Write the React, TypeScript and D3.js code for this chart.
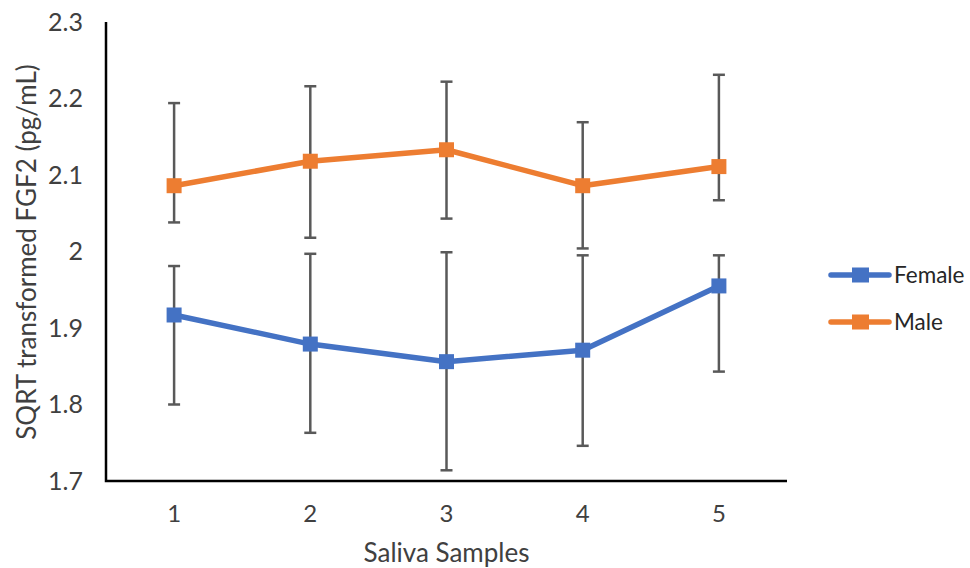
import React, { useEffect, useRef } from "react";
import * as d3 from "d3";

const categories = ["1", "2", "3", "4", "5"];
const femaleMean = [1.917, 1.879, 1.856, 1.871, 1.955];
const femaleLow = [1.8, 1.763, 1.714, 1.746, 1.843];
const femaleHigh = [1.981, 1.997, 1.999, 1.995, 1.995];
const maleMean = [2.086, 2.118, 2.133, 2.086, 2.111];
const maleLow = [2.038, 2.018, 2.043, 2.004, 2.067];
const maleHigh = [2.194, 2.216, 2.222, 2.169, 2.231];
const yTicks = [1.7, 1.8, 1.9, 2.0, 2.1, 2.2, 2.3];

const series = [
  { name: "Female", color: "#4472C4", mean: femaleMean, low: femaleLow, high: femaleHigh },
  { name: "Male", color: "#ED7D31", mean: maleMean, low: maleLow, high: maleHigh },
];

const W = 970;
const H = 568;
const font = "Lato, 'Open Sans', sans-serif";

export default function App() {
  const ref = useRef<SVGSVGElement>(null);

  useEffect(() => {
    const svg = d3.select(ref.current);
    svg.selectAll("*").remove();

    const left = 106, right = 787, top = 22, bottom = 481;

    const x = d3.scaleBand().domain(categories).range([left, right]);
    const cx = (c: string) => (x(c) as number) + x.bandwidth() / 2;
    const y = d3.scaleLinear().domain([1.7, 2.3]).range([bottom, top]);

    // tick labels
    svg.selectAll(".ytick")
      .data(yTicks)
      .enter()
      .append("text")
      .attr("x", 83)
      .attr("y", (d) => y(d))
      .attr("dy", "0.35em")
      .attr("text-anchor", "end")
      .attr("font-family", font)
      .attr("font-size", 25)
      .attr("fill", "#404040")
      .text((d) => String(+d.toFixed(1)));

    svg.selectAll(".xtick")
      .data(categories)
      .enter()
      .append("text")
      .attr("x", (d) => cx(d))
      .attr("y", 522)
      .attr("text-anchor", "middle")
      .attr("font-family", font)
      .attr("font-size", 24)
      .attr("fill", "#404040")
      .text((d) => d);

    // axis titles
    svg.append("text")
      .attr("x", cx("3"))
      .attr("y", 562)
      .attr("text-anchor", "middle")
      .attr("font-family", font)
      .attr("font-size", 26)
      .attr("fill", "#404040")
      .text("Saliva Samples");

    svg.append("text")
      .attr("transform", "translate(36,252) rotate(-90)")
      .attr("text-anchor", "middle")
      .attr("font-family", font)
      .attr("font-size", 26)
      .attr("fill", "#404040")
      .text("SQRT transformed FGF2 (pg/mL)");

    // axes
    svg.append("path")
      .attr("d", `M${left},${top}V${bottom}H${right}`)
      .attr("fill", "none")
      .attr("stroke", "#000")
      .attr("stroke-width", 2.5);

    // error bars
    series.forEach((s) => {
      const g = svg.append("g").attr("stroke", "#595959").attr("stroke-width", 2.5);
      categories.forEach((c, i) => {
        g.append("line")
          .attr("x1", cx(c)).attr("x2", cx(c))
          .attr("y1", y(s.low[i])).attr("y2", y(s.high[i]));
        [s.low[i], s.high[i]].forEach((v) => {
          g.append("line")
            .attr("x1", cx(c) - 6).attr("x2", cx(c) + 6)
            .attr("y1", y(v)).attr("y2", y(v));
        });
      });
    });

    // lines and markers
    const line = d3.line<number>()
      .x((_, i) => cx(categories[i]))
      .y((d) => y(d));

    series.forEach((s) => {
      svg.append("path")
        .attr("d", line(s.mean))
        .attr("fill", "none")
        .attr("stroke", s.color)
        .attr("stroke-width", 5.5)
        .attr("stroke-linejoin", "round");
      svg.selectAll(null)
        .data(s.mean)
        .enter()
        .append("rect")
        .attr("x", (_, i) => cx(categories[i]) - 7.5)
        .attr("y", (d) => y(d) - 7.5)
        .attr("width", 15)
        .attr("height", 15)
        .attr("fill", s.color);
    });

    // legend
    series.forEach((s, i) => {
      const ly = 275 + i * 47;
      svg.append("line")
        .attr("x1", 831).attr("x2", 889)
        .attr("y1", ly).attr("y2", ly)
        .attr("stroke", s.color)
        .attr("stroke-width", 5.5)
        .attr("stroke-linecap", "round");
      svg.append("rect")
        .attr("x", 852).attr("y", ly - 7.5)
        .attr("width", 17).attr("height", 15)
        .attr("fill", s.color);
      svg.append("text")
        .attr("x", 894)
        .attr("y", ly)
        .attr("dy", "0.35em")
        .attr("font-family", font)
        .attr("font-size", 22.5)
        .attr("fill", "#262626")
        .text(s.name);
    });
  }, []);

  return (
    <div style={{ position: "absolute", left: 0, top: 0 }}>
      <svg ref={ref} width={W} height={H} style={{ display: "block", background: "#fff" }} />
    </div>
  );
}
